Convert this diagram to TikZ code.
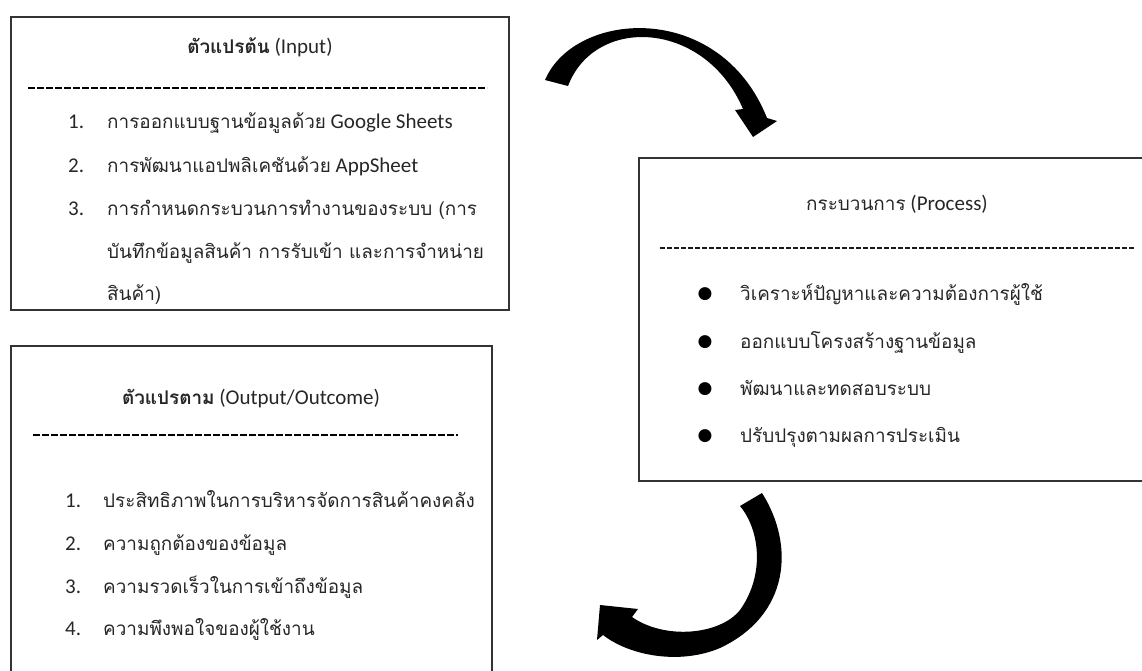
\documentclass[tikz,border=0pt]{standalone}
\usepackage{fontspec}
\setmainfont{Carlito}
\newfontfamily\thaifont[Script=Thai,Scale=0.9]{Loma}
\newfontfamily\symfont{DejaVu Sans}
\newcommand{\tb}[1]{{\thaifont\bfseries #1}}
\newcommand{\tr}[1]{{\thaifont #1}}

\begin{document}
\begin{tikzpicture}[x=1pt,y=-1pt,
    box/.style={draw=black!80, line width=1.4pt, inner sep=0pt},
    ttl/.style={anchor=base, inner sep=0pt, text=black!85, font=\fontsize{21}{26}\selectfont},
    txt/.style={anchor=base west, inner sep=0pt, text=black!85, font=\fontsize{21}{26}\selectfont},
    bul/.style={anchor=base, inner sep=0pt, text=black, font=\symfont\fontsize{17}{20}\selectfont},
    boldrule/.style={line width=2.8pt, dash pattern=on 6.5pt off 2.5pt, black},
    thinrule/.style={line width=1.1pt, dash pattern=on 5pt off 2pt, black!90},
    bigarrow/.style={fill=black}]
    \useasboundingbox (0,0) rectangle (1142,671);

    % boxes
    \node[box, minimum width=498, minimum height=293] (inbox) at (260,163.5) {};
    \node[box, minimum width=520, minimum height=323] (procbox) at (899,319.5) {};
    \node[box, minimum width=481, minimum height=360] (outbox) at (251.5,526) {};

    % input
    \node[ttl] (inttl) at (260,54) {\tb{ตัวแปรต้น} (Input)};
    \draw[boldrule] (28,88) -- (487,88);
    \node[txt] (in1n) at (68,129) {1.};
    \node[txt] (in2n) at (68,172) {2.};
    \node[txt] (in3n) at (68,215) {3.};
    \node[txt] (in1) at (107,129) {\tr{การออกแบบฐานข้อมูลด้วย} Google Sheets};
    \node[txt] (in2) at (107,172) {\tr{การพัฒนาแอปพลิเคชันด้วย} AppSheet};
    \node[txt] (in3) at (107,215) {\tr{การกำหนดกระบวนการทำงานของระบบ (การ}};
    \node[txt] (in3b) at (107,258) {\tr{บันทึกข้อมูลสินค้า การรับเข้า และการจำหน่าย}};
    \node[txt] (in3c) at (107,300) {\tr{สินค้า)}};

    % process
    \node[ttl] (procttl) at (897,211) {\tr{กระบวนการ} (Process)};
    \draw[thinrule] (660,248) -- (1135,248);
    \node[bul] (b1) at (705,298) {●};
    \node[bul] (b2) at (705,346) {●};
    \node[bul] (b3) at (705,393) {●};
    \node[bul] (b4) at (705,440) {●};
    \node[txt] (p1) at (740,300) {\tr{วิเคราะห์ปัญหาและความต้องการผู้ใช้}};
    \node[txt] (p2) at (740,348) {\tr{ออกแบบโครงสร้างฐานข้อมูล}};
    \node[txt] (p3) at (740,395) {\tr{พัฒนาและทดสอบระบบ}};
    \node[txt] (p4) at (740,442) {\tr{ปรับปรุงตามผลการประเมิน}};

    % output
    \node[ttl] (outttl) at (251,404) {\tb{ตัวแปรตาม} (Output/Outcome)};
    \draw[boldrule] (33,435) -- (458,435);
    \node[txt] (out1n) at (65,507) {1.};
    \node[txt] (out2n) at (65,550) {2.};
    \node[txt] (out3n) at (65,593) {3.};
    \node[txt] (out4n) at (65,635) {4.};
    \node[txt] (out1) at (103,507) {\tr{ประสิทธิภาพในการบริหารจัดการสินค้าคงคลัง}};
    \node[txt] (out2) at (103,550) {\tr{ความถูกต้องของข้อมูล}};
    \node[txt] (out3) at (103,593) {\tr{ความรวดเร็วในการเข้าถึงข้อมูล}};
    \node[txt] (out4) at (103,635) {\tr{ความพึงพอใจของผู้ใช้งาน}};

    % curved arrows
    \coordinate (t1) at (545,80);
    \coordinate (h1) at (753,137);
    \fill[bigarrow] (t1) .. controls (575,10) and (720,0) .. (767,118)
        -- (777,121) -- (h1) -- (735,110) -- (743,109)
        .. controls (705,20) and (595,15) .. (568,86) -- cycle;
    \coordinate (t2) at (762,493);
    \coordinate (h2) at (600,605);
    \fill[bigarrow] (t2) .. controls (795,545) and (790,615) .. (720,648)
        .. controls (680,665) and (630,656) .. (603,635)
        -- (597,640) -- (h2) -- (638,609) -- (632,617)
        .. controls (665,640) and (720,635) .. (740,610)
        .. controls (765,575) and (760,530) .. (740,506) -- cycle;
\end{tikzpicture}
\end{document}
